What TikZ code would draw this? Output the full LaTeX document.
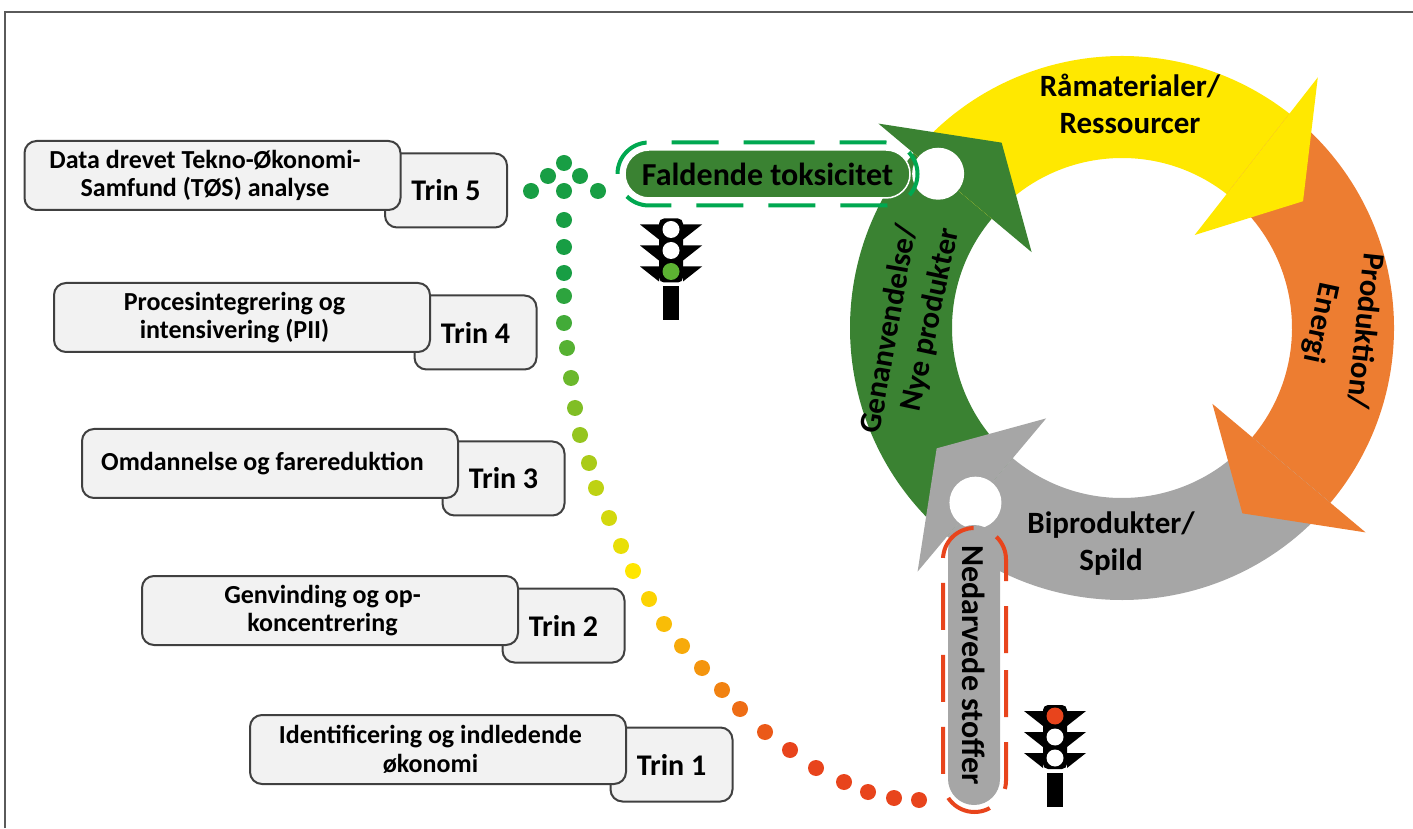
\documentclass[tikz,border=0pt]{standalone}
\usepackage{fontspec}
\setmainfont{Carlito}
\usetikzlibrary{positioning,shapes.misc}

\definecolor{rammegraa}{RGB}{90,90,90}
\definecolor{boksfyld}{RGB}{242,242,242}
\definecolor{bokskant}{RGB}{64,64,64}
\definecolor{ringgroen}{RGB}{58,130,50}
\definecolor{ringgul}{RGB}{255,232,0}
\definecolor{ringorange}{RGB}{237,125,49}
\definecolor{ringgraa}{RGB}{166,166,166}
\definecolor{prikgroen}{RGB}{24,158,68}
\definecolor{prikgul}{RGB}{255,230,0}
\definecolor{prikroed}{RGB}{232,68,28}
\definecolor{stiplgroen}{RGB}{0,168,80}
\definecolor{lysgroen}{RGB}{92,178,50}

% lyskurv: x, y, oeverste lys, nederste lys
\newcommand{\lyskurv}[4]{%
  \fill[black, rounded corners=5pt] (#1-12,#2-32) rectangle (#1+12,#2+32);
  \fill[black] (#1-8,#2-36) rectangle (#1+8,#2-70);
  \foreach \dy in {21,0,-21} {
    \fill[black] (#1-12,#2+\dy+5) -- (#1-31,#2+\dy+5) -- (#1-12,#2+\dy-10) -- cycle;
    \fill[black] (#1+12,#2+\dy+5) -- (#1+31,#2+\dy+5) -- (#1+12,#2+\dy-10) -- cycle;
  }
  \fill[#3] (#1,#2+21) circle (8.5);
  \fill[white] (#1,#2) circle (8.5);
  \fill[#4] (#1,#2-21) circle (8.5);
}

\tikzset{
  stepbox/.style={draw=bokskant, line width=2pt, fill=boksfyld, rounded corners=12pt,
    minimum width=376pt, minimum height=69pt, inner sep=0pt},
  trinbox/.style={stepbox, minimum width=122pt, minimum height=74pt,
    font=\bfseries\fontsize{30}{34}\selectfont},
  steptext/.style={align=center, inner sep=0pt, font=\bfseries\fontsize{26}{28.5}\selectfont},
  ringtext/.style={align=center, inner sep=0pt, font=\bfseries\fontsize{31}{37}\selectfont},
  pille/.style={rounded rectangle, inner sep=0pt, font=\bfseries\fontsize{32}{37}\selectfont},
  pilleramme/.style={rounded rectangle, line width=4pt, dash pattern=on 47pt off 25pt, inner sep=0pt}
}

\begin{document}
\begin{tikzpicture}[x=1pt, y=1pt]
    \useasboundingbox (0,0) rectangle (1413,828);

    % Ramme
    \draw[rammegraa, line width=2pt] (5,0) -- (5,816) -- (1413,816);

    % Trin-bokse
    \foreach \n/\x/\y/\tekst in {5/212.5/652.5/{Data drevet Tekno-Økonomi-\\Samfund (TØS) analyse},
        4/242/510.5/{Procesintegrering og\\intensivering (PII)},
        3/270/364.5/{Omdannelse og farereduktion},
        2/330/217.5/{Genvinding og op-\\koncentrering},
        1/438/78.5/{Identificering og indledende\\økonomi}} {
      \node[trinbox] (t\n) at (\x+233.5,\y-15) {Trin \n};
      \node[stepbox] (s\n) at (\x,\y) {};
      \node[steptext] (st\n) at ([xshift=-7.5pt]s\n.center) {\tekst};
    }

    % Kredsloebet
    \begin{scope}[shift={(1122,500)}]
      \foreach \fra/\til/\farve in {230/140/ringgroen, 140/52/ringgul, 52/-40/ringorange, 320/230/ringgraa}
        \fill[\farve] (\fra:272) arc[start angle=\fra, end angle=\til, radius=272]
          -- (\til:170) arc[start angle=\til, end angle=\fra, radius=170] -- cycle;
      \foreach \b/\farve in {140/ringgroen, 52/ringgul, -40/ringorange, 230/ringgraa}
        \fill[\farve] (\b:318) -- (\b-17:221) -- (\b:118) -- cycle;
      \fill[white] (140:240) circle (26);
      \fill[white] (230:228) circle (26);
    \end{scope}

    % Tekster i kredsloebet
    \node[ringtext] (raa) at (1130,724.5) {Råmaterialer/\\Ressourcer};
    \node[ringtext, rotate=-96] (prod) at (1366,497) {Produktion/};
    \node[ringtext, rotate=-102] (energi) at (1320,505) {Energi};
    \node[ringtext] (bipro) at (1111,284.5) {Biprodukter/\\Spild};
    \node[ringtext, rotate=80] (genanv) at (888,499) {Genanvendelse/};
    \node[ringtext, rotate=78] (nye) at (931,508) {Nye produkter};

    % Faldende toksicitet
    \node[pille, fill=ringgroen, draw=white, line width=1.5pt,
      minimum width=285pt, minimum height=48pt] (fald) at (767.5,654) {Faldende toksicitet};
    \node[pilleramme, draw=stiplgroen, minimum width=300pt, minimum height=63pt] (faldramme) at (fald.center) {};

    % Nedarvede stoffer
    \node[pille, fill=ringgraa, rotate=-90, minimum width=280pt, minimum height=52pt] (ned) at (974,163) {Nedarvede stoffer};
    \node[pilleramme, draw=prikroed, rotate=-90, minimum width=284pt, minimum height=63pt] (nedramme) at (974.5,158) {};

    % Lyskurve
    \lyskurv{671}{577.5}{white}{lysgroen}
    \lyskurv{1055}{91}{prikroed}{white}

    % Prikket pil
    \foreach \x/\y in {564/665, 548/652, 580/652, 531/637, 598/637}
      \fill[prikgroen] (\x,\y) circle (8);
    \foreach \x/\y [count=\i] in {564/637, 564/608, 564/581, 564/555, 564/532, 564/505,
        567/480, 571/450, 575/420, 580/393, 589/365, 596/340, 609/310, 621/282, 633/257,
        649/229, 664/204, 682/182, 702/160, 722/138, 740/119, 765/96, 790/78, 816/60,
        844/46, 868/36, 894/30, 919/28} {
      \pgfmathtruncatemacro\andelG{max(0,min(100,100*(\i-4)/11))}
      \pgfmathtruncatemacro\andelR{max(0,min(100,100*(\i-15)/8))}
      \fill[prikroed!\andelR!prikgul!\andelG!prikgroen] (\x,\y) circle (8);
    }
\end{tikzpicture}
\end{document}
